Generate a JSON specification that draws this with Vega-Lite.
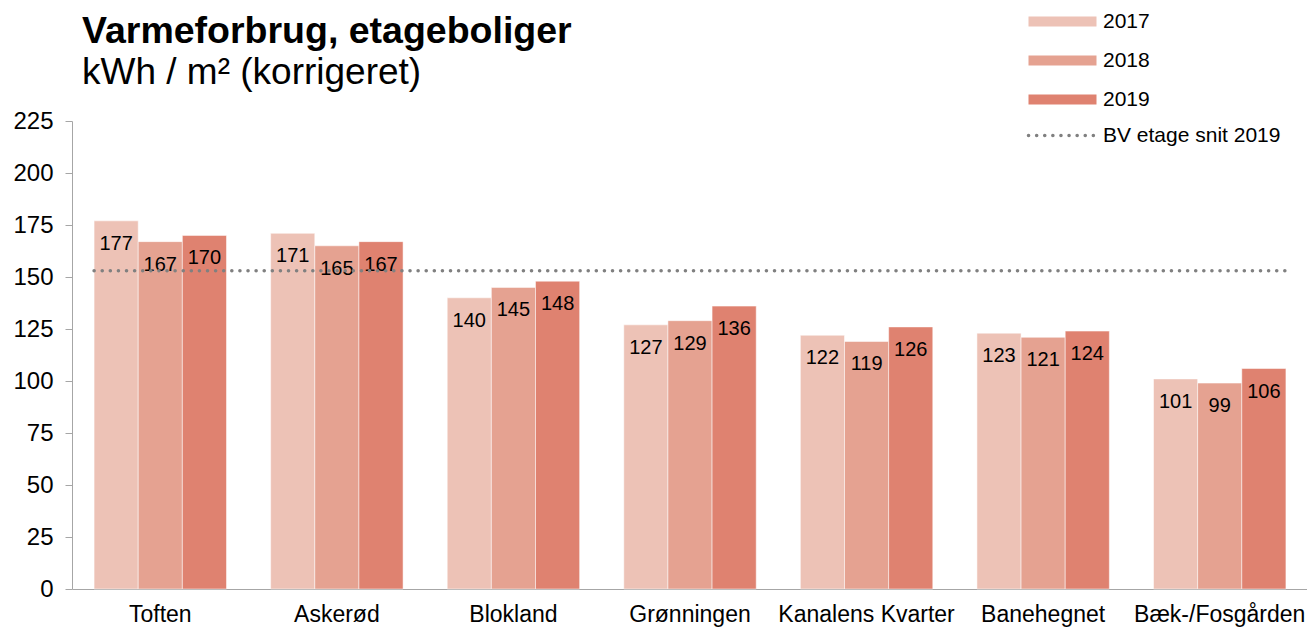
{
  "$schema": "https://vega.github.io/schema/vega-lite/v6.json",
  "width": 1236,
  "height": 468,
  "autosize": "none",
  "padding": {"left": 72, "top": 121, "right": 0, "bottom": 38},
  "config": {"font": "Liberation Sans", "view": {"stroke": null}},
  "title": {
    "text": "Varmeforbrug, etageboliger",
    "subtitle": "kWh / m² (korrigeret)",
    "anchor": "start",
    "frame": "group",
    "dx": 10,
    "offset": -80,
    "fontSize": 37.5,
    "fontWeight": "bold",
    "color": "#000000",
    "subtitleFontSize": 37,
    "subtitleColor": "#000000",
    "subtitlePadding": 5
  },
  "datasets": {
    "bars": [
      {"omraade": "Toften", "aar": "2017", "vaerdi": 177},
      {"omraade": "Toften", "aar": "2018", "vaerdi": 167},
      {"omraade": "Toften", "aar": "2019", "vaerdi": 170},
      {"omraade": "Askerød", "aar": "2017", "vaerdi": 171},
      {"omraade": "Askerød", "aar": "2018", "vaerdi": 165},
      {"omraade": "Askerød", "aar": "2019", "vaerdi": 167},
      {"omraade": "Blokland", "aar": "2017", "vaerdi": 140},
      {"omraade": "Blokland", "aar": "2018", "vaerdi": 145},
      {"omraade": "Blokland", "aar": "2019", "vaerdi": 148},
      {"omraade": "Grønningen", "aar": "2017", "vaerdi": 127},
      {"omraade": "Grønningen", "aar": "2018", "vaerdi": 129},
      {"omraade": "Grønningen", "aar": "2019", "vaerdi": 136},
      {"omraade": "Kanalens Kvarter", "aar": "2017", "vaerdi": 122},
      {"omraade": "Kanalens Kvarter", "aar": "2018", "vaerdi": 119},
      {"omraade": "Kanalens Kvarter", "aar": "2019", "vaerdi": 126},
      {"omraade": "Banehegnet", "aar": "2017", "vaerdi": 123},
      {"omraade": "Banehegnet", "aar": "2018", "vaerdi": 121},
      {"omraade": "Banehegnet", "aar": "2019", "vaerdi": 124},
      {"omraade": "Bæk-/Fosgården", "aar": "2017", "vaerdi": 101},
      {"omraade": "Bæk-/Fosgården", "aar": "2018", "vaerdi": 99},
      {"omraade": "Bæk-/Fosgården", "aar": "2019", "vaerdi": 106}
    ],
    "ref": [
      {"navn": "BV etage snit 2019", "vaerdi": 153}
    ]
  },
  "layer": [
    {
      "data": {"name": "bars"},
      "mark": {"type": "bar", "stroke": "#ffffff", "strokeWidth": 1, "strokeOpacity": 0.5},
      "encoding": {
        "x": {
          "field": "omraade",
          "type": "nominal",
          "sort": null,
          "scale": {"paddingInner": 0.25, "paddingOuter": 0.125},
          "axis": {
            "title": null,
            "ticks": false,
            "domainColor": "#A6A6A6",
            "domainWidth": 1,
            "labelFontSize": 23,
            "labelColor": "#000000",
            "labelPadding": 14,
            "labelAngle": 0
          }
        },
        "xOffset": {"field": "aar", "type": "nominal", "scale": {"paddingInner": 0, "paddingOuter": 0}},
        "y": {
          "field": "vaerdi",
          "type": "quantitative",
          "scale": {"domain": [0, 225], "nice": false, "zero": true},
          "axis": {
            "title": null,
            "grid": false,
            "values": [0, 25, 50, 75, 100, 125, 150, 175, 200, 225],
            "domainColor": "#A6A6A6",
            "tickColor": "#A6A6A6",
            "tickSize": 7,
            "labelFontSize": 24,
            "labelColor": "#000000",
            "labelPadding": 12
          }
        },
        "color": {
          "field": "aar",
          "type": "nominal",
          "scale": {"domain": ["2017", "2018", "2019"], "range": ["#EDC2B6", "#E5A291", "#DF8270"]},
          "legend": {
            "orient": "none",
            "legendX": 980,
            "legendY": -110,
            "title": null,
            "padding": 0,
            "symbolType": "M-6.8,-1H6.8V1H-6.8Z",
            "symbolSize": 100,
            "symbolStrokeWidth": 0,
            "labelFontSize": 21,
            "labelColor": "#000000",
            "labelOffset": 30,
            "labelLimit": 300,
            "rowPadding": 17
          }
        }
      }
    },
    {
      "data": {"name": "bars"},
      "mark": {"type": "text", "dy": 23, "fontSize": 20, "baseline": "middle", "color": "#000000"},
      "encoding": {
        "x": {"field": "omraade", "type": "nominal", "sort": null},
        "xOffset": {"field": "aar", "type": "nominal"},
        "y": {"field": "vaerdi", "type": "quantitative"},
        "text": {"field": "vaerdi", "type": "quantitative"}
      }
    },
    {
      "data": {"name": "ref"},
      "mark": {"type": "rule", "strokeWidth": 3.5, "strokeCap": "round", "color": "#808080"},
      "encoding": {
        "y": {"field": "vaerdi", "type": "quantitative"},
        "x": {"datum": "Toften", "type": "nominal", "bandPosition": 0},
        "x2": {"datum": "Bæk-/Fosgården", "bandPosition": 1},
        "strokeDash": {
          "field": "navn",
          "type": "nominal",
          "scale": {"range": [[0.1, 8]]},
          "legend": {
            "orient": "none",
            "legendX": 980,
            "legendY": 4,
            "title": null,
            "padding": 0,
            "symbolType": "M-6.8,0H6.8",
            "symbolSize": 100,
            "symbolStrokeWidth": 3.5,
            "symbolStrokeColor": "#808080",
            "labelFontSize": 21,
            "labelColor": "#000000",
            "labelOffset": 30,
            "labelLimit": 300,
            "encode": {"symbols": {"update": {"strokeCap": {"value": "round"}}}}
          }
        }
      }
    }
  ]
}
